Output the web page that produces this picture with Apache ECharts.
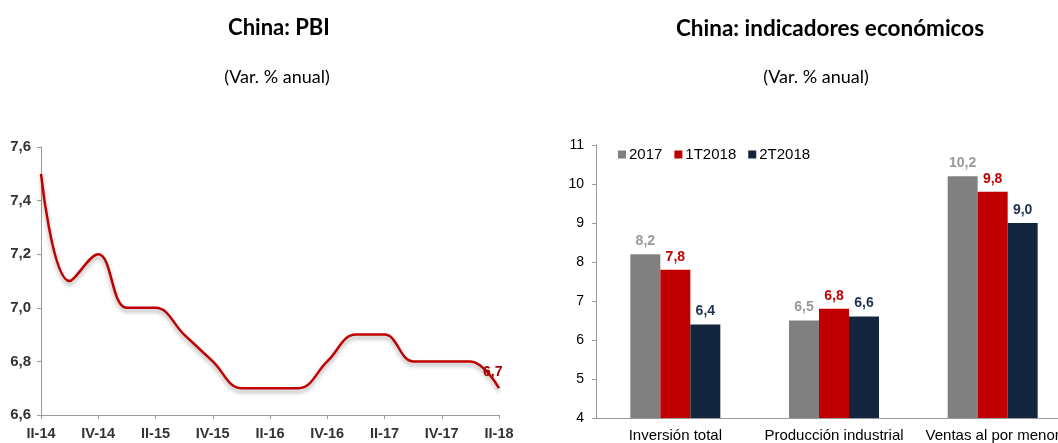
<!DOCTYPE html>
<html lang="es">
<head>
<meta charset="UTF-8">
<title>China: PBI e indicadores</title>
<style>
  * { margin: 0; padding: 0; }
  html, body { background: #fff; overflow: hidden; width: 1058px; height: 443px; }
  #chart { width: 1072px; height: 443px; }
</style>
<script src="https://cdn.jsdelivr.net/npm/echarts@6/dist/echarts.min.js"></script>
</head>
<body>
<div id="chart"></div>
<script>
// PBI trimestral (var. % anual)
var quarters = ['II-14','III-14','IV-14','I-15','II-15','III-15','IV-15','I-16','II-16',
                'III-16','IV-16','I-17','II-17','III-17','IV-17','I-18','II-18'];
var pbi = [7.5, 7.1, 7.2, 7.0, 7.0, 6.9, 6.8, 6.7, 6.7, 6.7, 6.8, 6.9, 6.9, 6.8, 6.8, 6.8, 6.7];

// indicadores economicos
var indicators = ['Inversión total', 'Producción industrial', 'Ventas al por menor'];
var v2017 = [8.2, 6.5, 10.2];
var v1T2018 = [7.8, 6.8, 9.8];
var v2T2018 = [6.4, 6.6, 9.0];

var comma = function (v, d) { return Number(v).toFixed(d).replace('.', ','); };
var arial = 'Liberation Sans, Arial, sans-serif';
var titleFont = 'Lato, sans-serif';

// el grafico de barras sigue mas alla del borde derecho, como en el original
var myChart = echarts.init(document.getElementById('chart'));

function barSeries(name, data, color, labelColor) {
  return {
    name: name, type: 'bar', xAxisIndex: 1, yAxisIndex: 1,
    data: data, barWidth: 30, barGap: '0%',
    itemStyle: { color: color },
    label: {
      show: true, position: 'top', distance: 6,
      color: labelColor, fontWeight: 'bold', fontSize: 14, fontFamily: arial,
      formatter: function (p) { return comma(p.value, 1); }
    }
  };
}

var option = {
  animation: false,
  title: [
    { text: 'China: PBI', left: 274, top: 12, textAlign: 'center',
      textStyle: { fontFamily: titleFont, fontWeight: 'bold', fontSize: 22, color: '#000' } },
    { text: '(Var. % anual)', left: 272, top: 63, textAlign: 'center',
      textStyle: { fontFamily: titleFont, fontWeight: 'normal', fontSize: 18, color: '#000' } },
    { text: 'China: indicadores económicos', left: 825, top: 12, textAlign: 'center',
      textStyle: { fontFamily: titleFont, fontWeight: 'bold', fontSize: 22.5, color: '#000' } },
    { text: '(Var. % anual)', left: 811, top: 63, textAlign: 'center',
      textStyle: { fontFamily: titleFont, fontWeight: 'normal', fontSize: 18, color: '#000' } }
  ],
  legend: {
    data: ['2017', '1T2018', '2T2018'],
    left: 613, top: 142, icon: 'rect', itemWidth: 8, itemHeight: 8, itemGap: 12,
    textStyle: { fontFamily: arial, fontSize: 15, color: '#000', padding: [0, 0, 0, -2] }
  },
  grid: [
    { left: 41, top: 147, width: 458, height: 268 },
    { left: 596, top: 145, width: 476, height: 276 }
  ],
  xAxis: [
    {
      gridIndex: 0, type: 'category', data: quarters, boundaryGap: false,
      axisLine: { lineStyle: { color: '#999' } },
      axisTick: { interval: 1, length: 4, lineStyle: { color: '#999' } },
      axisLabel: { interval: 1, margin: 11, fontFamily: arial, fontWeight: 'bold', fontSize: 14.5, color: '#333' }
    },
    {
      gridIndex: 1, type: 'category', data: indicators,
      axisLine: { lineStyle: { color: '#999' } },
      axisTick: { length: 4, lineStyle: { color: '#999' } },
      axisLabel: { interval: 0, margin: 10, fontFamily: arial, fontSize: 15, color: '#000' }
    }
  ],
  yAxis: [
    {
      gridIndex: 0, type: 'value', min: 6.6, max: 7.6, interval: 0.2,
      splitLine: { show: false },
      axisLine: { show: true, lineStyle: { color: '#999' } },
      axisTick: { show: true, length: 4, lineStyle: { color: '#999' } },
      axisLabel: { fontFamily: arial, fontWeight: 'bold', fontSize: 15, color: '#333', margin: 10,
                   formatter: function (v) { return comma(v, 1); } }
    },
    {
      gridIndex: 1, type: 'value', min: 4, max: 11, interval: 1,
      splitLine: { show: false },
      axisLine: { show: true, lineStyle: { color: '#999' } },
      axisTick: { show: true, length: 4, lineStyle: { color: '#999' } },
      axisLabel: { fontFamily: arial, fontSize: 14, color: '#000', margin: 12 }
    }
  ],
  series: [
    {
      name: 'PBI', type: 'line', xAxisIndex: 0, yAxisIndex: 0,
      data: pbi, smooth: 0.4, symbol: 'none',
      lineStyle: { color: '#C00000', width: 2.5, shadowColor: 'rgba(0,0,0,0.35)', shadowBlur: 4, shadowOffsetY: 3 },
      endLabel: {
        show: true, offset: [-24, -16], color: '#A50000', fontWeight: 'bold', fontSize: 14, fontFamily: arial,
        formatter: function (p) { return comma(p.value, 1); }
      }
    },
    barSeries('2017', v2017, '#808080', '#999999'),
    barSeries('1T2018', v1T2018, '#C00000', '#C00000'),
    barSeries('2T2018', v2T2018, '#14253F', '#1F3150')
  ]
};

myChart.setOption(option);
</script>
</body>
</html>
